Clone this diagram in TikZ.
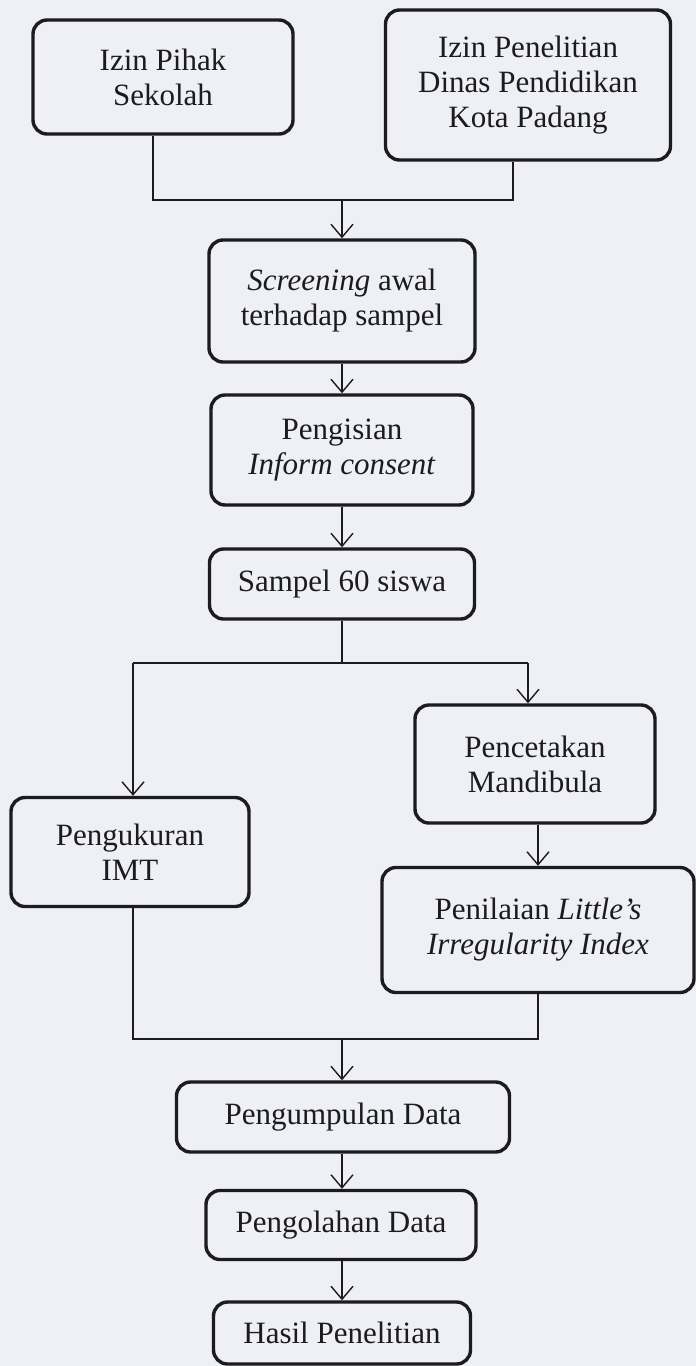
\documentclass[tikz,border=0pt]{standalone}
\usepackage{fontspec}
\setmainfont{Liberation Serif}
\usetikzlibrary{arrows.meta}
\definecolor{bgc}{RGB}{238,240,245}
\definecolor{ink}{RGB}{28,28,30}
\begin{document}
\begin{tikzpicture}[x=1pt,y=-1pt,
  box/.style={draw=ink,line width=3.4pt,rounded corners=14pt,inner sep=0pt,
    align=center,text=ink,font=\fontsize{31}{35}\selectfont},
  conn/.style={draw=ink,line width=1.4pt},
  arr/.style={conn,-{Straight Barb[length=13pt,width=22pt,line width=1.4pt]}}]
\fill[bgc] (0,0) rectangle (696,1366);
\useasboundingbox (0,0) rectangle (696,1366);
% nodes
\node[box,minimum width=260pt,minimum height=114pt] (A) at (163,77) {Izin Pihak\\Sekolah};
\node[box,minimum width=285pt,minimum height=150pt] (B) at (528,85) {Izin Penelitian\\Dinas Pendidikan\\Kota Padang};
\node[box,minimum width=266pt,minimum height=122pt] (C) at (342,301) {\textit{Screening} awal\\terhadap sampel};
\node[box,minimum width=262pt,minimum height=110pt] (D) at (342,450) {Pengisian\\\textit{Inform consent}};
\node[box,minimum width=265pt,minimum height=70pt] (E) at (342,584) {Sampel 60 siswa};
\node[box,minimum width=238pt,minimum height=109pt] (F) at (130,852) {Pengukuran\\IMT};
\node[box,minimum width=240pt,minimum height=118pt] (G) at (535,764) {Pencetakan\\Mandibula};
\node[box,minimum width=312pt,minimum height=125pt] (H) at (538,930) {Penilaian \textit{Little's}\\\textit{Irregularity Index}};
\node[box,minimum width=333pt,minimum height=70pt] (I) at (343,1117) {Pengumpulan Data};
\node[box,minimum width=270pt,minimum height=69pt] (J) at (341,1225) {Pengolahan Data};
\node[box,minimum width=257pt,minimum height=62pt] (K) at (342,1333) {Hasil Penelitian};
% junction coordinates
\coordinate (j1) at (153,200);
\coordinate (j2) at (513,200);
\coordinate (jm) at (342,200);
\coordinate (s) at (342,663);
\coordinate (sL) at (133,663);
\coordinate (sR) at (528,663);
\coordinate (m1) at (133,1039);
\coordinate (m2) at (538,1039);
\coordinate (mm) at (342,1039);
% connectors
\draw[conn] (A.south -| j1) -- (j1) -- (j2) -- (B.south -| j2);
\draw[arr] (jm) -- (C.north -| jm);
\draw[arr] (C.south -| jm) -- (D.north -| jm);
\draw[arr] (D.south -| jm) -- (E.north -| jm);
\draw[conn] (E.south -| s) -- (s);
\draw[conn] (sL) -- (sR);
\draw[arr] (sL) -- (F.north -| sL);
\draw[arr] (sR) -- (G.north -| sR);
\draw[arr] (G.south -| H.south) -- (H.north);
\draw[conn] (F.south -| m1) -- (m1) -- (m2) -- (H.south -| m2);
\draw[arr] (mm) -- (I.north -| mm);
\draw[arr] (I.south -| mm) -- (J.north -| mm);
\draw[arr] (J.south -| mm) -- (K.north -| mm);
\end{tikzpicture}
\end{document}
